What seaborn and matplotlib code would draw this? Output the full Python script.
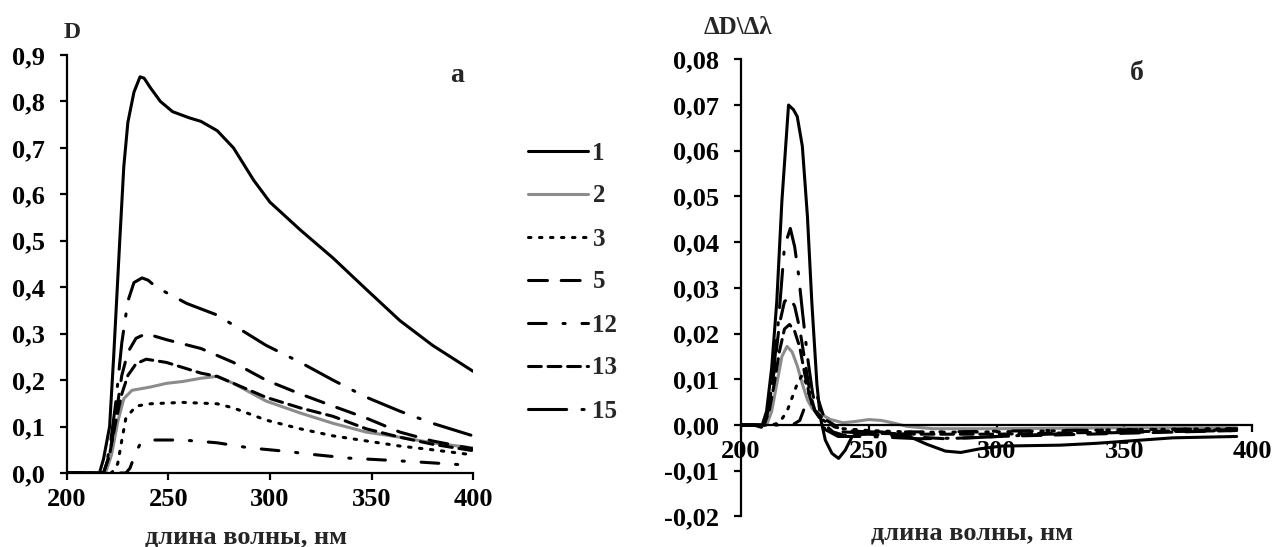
import numpy as np
import pandas as pd
import matplotlib
matplotlib.use("Agg")
import matplotlib.pyplot as plt
import seaborn as sns
from matplotlib.ticker import FuncFormatter

# --- panel a: optical density D vs wavelength ---
a1_x = [200, 216, 218, 221, 223, 226, 228, 230, 233, 236, 238, 241, 246, 252, 260, 266, 274, 282, 292, 300, 315, 331, 347.5, 364, 380, 400]
a1_y = [0, 0, 0.03, 0.1, 0.25, 0.5, 0.66, 0.755, 0.82, 0.853, 0.85, 0.83, 0.80, 0.778, 0.765, 0.757, 0.737, 0.70, 0.63, 0.583, 0.523, 0.463, 0.395, 0.328, 0.275, 0.219]
a2_x = [200, 219, 222, 225, 228, 232, 241, 249, 257, 266, 274, 282, 298, 315, 331, 347.5, 364, 380, 400]
a2_y = [0, 0, 0.04, 0.11, 0.16, 0.178, 0.185, 0.193, 0.197, 0.204, 0.208, 0.193, 0.155, 0.129, 0.107, 0.088, 0.077, 0.065, 0.054]
a3_x = [200, 222, 225, 227, 229, 234, 241, 257, 274, 282, 298, 315, 331, 347.5, 364, 380, 400]
a3_y = [0, 0, 0.02, 0.07, 0.118, 0.144, 0.149, 0.152, 0.149, 0.14, 0.114, 0.095, 0.08, 0.069, 0.058, 0.05, 0.039]
a5_x = [200, 218, 221, 224, 227, 230, 234, 239, 249, 266, 282, 298, 315, 331, 347.5, 364, 380, 400]
a5_y = [0, 0, 0.04, 0.12, 0.21, 0.26, 0.29, 0.30, 0.287, 0.268, 0.238, 0.20, 0.17, 0.144, 0.118, 0.088, 0.069, 0.052]
a12_x = [200, 229, 231, 234, 236, 241, 257, 274, 290, 307, 323, 339, 356, 372, 397]
a12_y = [0, 0, 0.01, 0.045, 0.062, 0.071, 0.071, 0.065, 0.054, 0.047, 0.039, 0.032, 0.028, 0.024, 0.017]
a13_x = [200, 218, 221, 224, 227, 230, 234, 239, 249, 266, 274, 282, 298, 315, 331, 347.5, 364, 380, 400]
a13_y = [0, 0, 0.04, 0.11, 0.17, 0.21, 0.235, 0.245, 0.238, 0.215, 0.208, 0.193, 0.163, 0.14, 0.122, 0.095, 0.077, 0.062, 0.048]
a15_x = [200, 218, 221, 224, 227, 230, 233, 237, 240, 244, 259, 274, 298, 315, 331, 347.5, 364, 380, 397, 400]
a15_y = [0, 0, 0.05, 0.15, 0.28, 0.37, 0.41, 0.42, 0.415, 0.40, 0.365, 0.34, 0.275, 0.238, 0.20, 0.163, 0.133, 0.107, 0.084, 0.08]

# --- panel b: derivative dD/dlambda ---
b1_x = [200, 205, 208, 210, 212, 214, 216, 218.6, 220.5, 222, 224, 226, 227.7, 229.7, 231, 233, 235.6, 238.2, 240.8, 243.4, 246.7, 255, 265, 272.7, 280, 286, 293.5, 302, 325, 339, 354, 369, 394]
b1_y = [0, 0, -0.0005, 0.003, 0.0125, 0.027, 0.049, 0.070, 0.069, 0.0675, 0.061, 0.0456, 0.027, 0.009, 0.0018, -0.0033, -0.0062, -0.0073, -0.0055, -0.0026, -0.0015, -0.0015, -0.0023, -0.0042, -0.0057, -0.006, -0.0052, -0.0046, -0.0044, -0.004, -0.0034, -0.0028, -0.0025]
b2_x = [200, 210, 212, 214, 216, 218, 220, 222, 224, 226, 228, 231, 235, 240, 245, 250, 255, 260, 265, 275, 300, 350, 394]
b2_y = [0, 0, 0.003, 0.009, 0.015, 0.0172, 0.016, 0.013, 0.009, 0.0055, 0.0035, 0.0025, 0.0012, 0.0005, 0.0008, 0.0012, 0.001, 0.0004, -0.0003, -0.0008, -0.0008, -0.0006, -0.0006]
b3_x = [200, 212, 215, 218, 220, 222, 224, 226, 228, 231, 235, 240, 250, 270, 300, 350, 394]
b3_y = [0, 0, 0.0005, 0.003, 0.006, 0.009, 0.011, 0.0085, 0.004, 0.0015, 0.0, -0.0008, -0.0012, -0.0016, -0.0015, -0.001, -0.0008]
b5_x = [200, 209, 211, 213, 215, 217, 219, 221, 223, 225, 227, 229, 232, 236, 240, 250, 265, 280, 300, 350, 394]
b5_y = [0, 0, 0.004, 0.012, 0.022, 0.027, 0.028, 0.026, 0.021, 0.014, 0.007, 0.003, 0.0005, -0.0015, -0.0022, -0.002, -0.0025, -0.003, -0.0025, -0.0018, -0.0012]
b12_x = [200, 220, 223, 225, 227, 228.5, 230, 232, 235, 240, 250, 280, 320, 394]
b12_y = [0, 0, 0.001, 0.004, 0.0075, 0.0082, 0.006, 0.0025, 0.0, -0.0012, -0.0015, -0.0015, -0.0012, -0.0008]
b13_x = [200, 209, 211, 213, 215, 217, 219, 221, 223, 225, 227, 229, 232, 236, 240, 250, 270, 300, 350, 394]
b13_y = [0, 0, 0.003, 0.009, 0.016, 0.021, 0.022, 0.0205, 0.017, 0.011, 0.006, 0.003, 0.0015, 0.0002, -0.0015, -0.0018, -0.002, -0.002, -0.0015, -0.001]
b15_x = [200, 209, 211, 213, 215, 217, 219.3, 221, 222.5, 224, 226, 228, 230, 233, 238, 250, 270, 290, 320, 360, 394]
b15_y = [0, 0, 0.004, 0.013, 0.025, 0.039, 0.043, 0.039, 0.033, 0.025, 0.015, 0.007, 0.002, -0.001, -0.0025, -0.0025, -0.003, -0.0028, -0.002, -0.0015, -0.0012]

labels = ["1", "2", "3", "5", "12", "13", "15"]
panel_a = [(a1_x, a1_y), (a2_x, a2_y), (a3_x, a3_y), (a5_x, a5_y), (a12_x, a12_y), (a13_x, a13_y), (a15_x, a15_y)]
panel_b = [(b1_x, b1_y), (b2_x, b2_y), (b3_x, b3_y), (b5_x, b5_y), (b12_x, b12_y), (b13_x, b13_y), (b15_x, b15_y)]

colors = {"1": "black", "2": "#8c8c8c", "3": "black", "5": "black",
          "12": "black", "13": "black", "15": "black"}
dashes = {"1": "", "2": "", "3": (0.8, 2.8), "5": (6.2, 4.5),
          "12": (5.8, 5.5, 0.7, 5.5), "13": (4.2, 2.2), "15": (12.5, 5.0, 0.7, 5.0)}


def to_long(series):
    frames = []
    for lab, (x, y) in zip(labels, series):
        frames.append(pd.DataFrame({"x": x, "y": y, "curve": lab}))
    return pd.concat(frames, ignore_index=True)


sns.set_theme(style="ticks")
plt.rcParams["font.family"] = ["Liberation Serif", "DejaVu Serif"]
plt.rcParams["font.weight"] = "bold"

fig = plt.figure(figsize=(12.73, 5.47), dpi=100)
axA = fig.add_axes([0.0526, 0.1353, 0.3190, 0.7642])
axB = fig.add_axes([0.5821, 0.0558, 0.4014, 0.8358])

for ax, series in ((axA, panel_a), (axB, panel_b)):
    sns.lineplot(data=to_long(series), x="x", y="y", hue="curve", style="curve",
                 hue_order=labels, style_order=labels, palette=colors, dashes=dashes,
                 linewidth=2.2, legend=False, ax=ax, sort=False)
    ax.set_xlim(200, 400)
    ax.set_xticks([200, 250, 300, 350, 400])
    for s in ("top", "right"):
        ax.spines[s].set_visible(False)
    for s in ("left", "bottom"):
        ax.spines[s].set_linewidth(1.6)
        ax.spines[s].set_color("black")
    ax.tick_params(axis="both", direction="out", length=5, width=1.6,
                   colors="black", labelsize=19)
    ax.tick_params(axis="y", pad=11)
    ax.tick_params(axis="x", pad=6)
    for t in ax.get_xticklabels() + ax.get_yticklabels():
        t.set_fontweight("bold")
    for ln in ax.get_lines():
        ln.set_dash_capstyle("round")

axA.set_ylim(0, 0.9)
axA.set_yticks(np.arange(0, 0.91, 0.1))
axA.yaxis.set_major_formatter(FuncFormatter(lambda v, p: f"{v:.1f}".replace(".", ",")))
axA.set_xlabel("длина волны, нм", fontsize=19, fontweight="bold")
axA.xaxis.set_label_coords(0.44, -0.125)
axA.set_ylabel("")

axB.set_ylim(-0.02, 0.08)
axB.set_yticks(np.arange(-0.02, 0.081, 0.01))
axB.yaxis.set_major_formatter(FuncFormatter(lambda v, p: f"{v:.2f}".replace(".", ",").replace("-0,00", "0,00")))
axB.spines["bottom"].set_position(("data", 0))
axB.set_xlabel("длина волны, нм", fontsize=19, fontweight="bold")
axB.xaxis.set_label_coords(0.452, -0.01)
axB.set_ylabel("")

fig.text(72 / 1273, 1 - 33 / 547, "D", fontsize=17, fontweight="bold", ha="center", va="center")
fig.text(457 / 1273, 1 - 75 / 547, "а", fontsize=20, fontweight="bold", ha="center", va="center")
fig.text(738 / 1273, 1 - 28 / 547, "ΔD\\Δλ", fontsize=18, fontweight="bold", ha="center", va="center")
fig.text(1137 / 1273, 1 - 73 / 547, "б", fontsize=20, fontweight="bold", ha="center", va="center")

handles = axA.get_lines()[:len(labels)]
fig.legend(handles, labels, loc="upper left", bbox_to_anchor=(505 / 1273, 1 - 119 / 547),
           frameon=False, handlelength=2.4, handletextpad=0.2, labelspacing=0.8,
           prop={"family": "Liberation Serif", "weight": "bold", "size": 18})

fig.savefig("out.png", dpi=100)
